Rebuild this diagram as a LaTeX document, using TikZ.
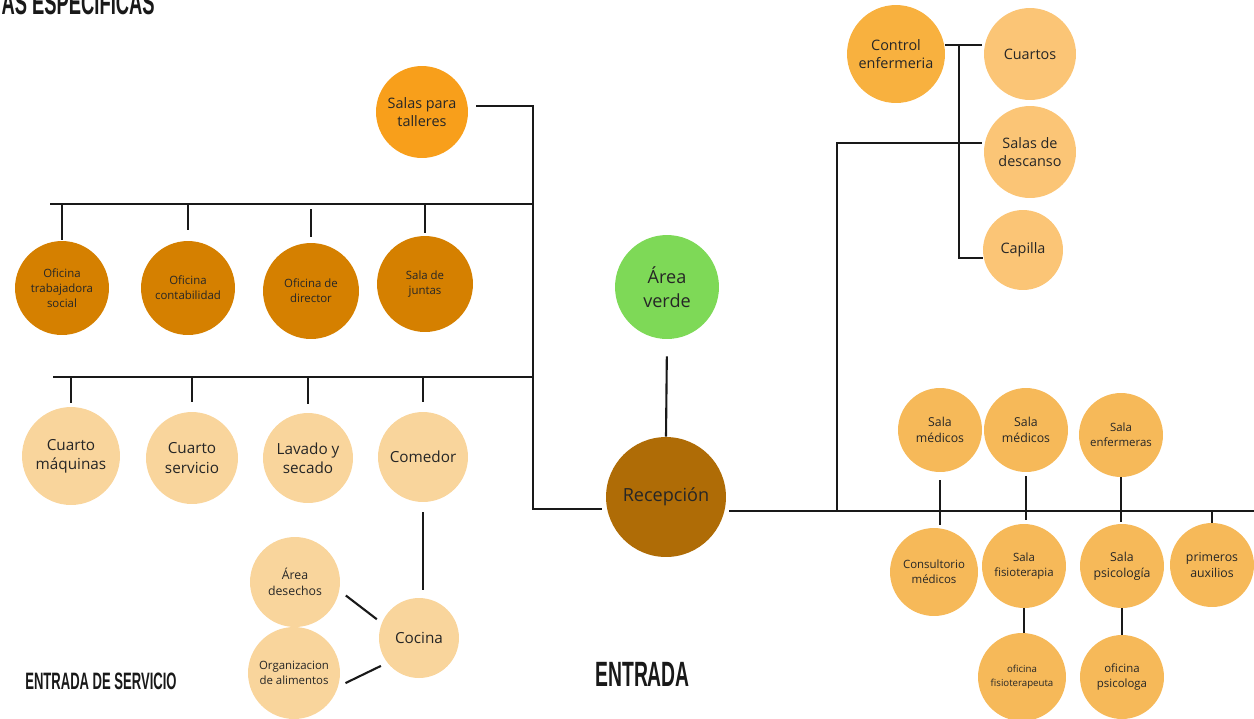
\documentclass[tikz,border=0pt]{standalone}
\usepackage{fontspec}
\setmainfont{Open Sans}
\newfontfamily\capsfont[FakeStretch=0.55]{Liberation Sans}
\usepackage{tikz}
\usetikzlibrary{calc}
\usepackage{xcolor}

\definecolor{tallerc}{HTML}{F89F1B}
\definecolor{oficinac}{HTML}{D58000}
\definecolor{servc}{HTML}{F9D59C}
\definecolor{verdec}{HTML}{7ED957}
\definecolor{recepc}{HTML}{AF6C06}
\definecolor{controlc}{HTML}{F8B13F}
\definecolor{cuartosc}{HTML}{FBC576}
\definecolor{clinicc}{HTML}{F6B959}

\begin{document}
\begin{tikzpicture}[
    x=0.02cm, y=-0.02cm,
    area/.style={circle, inner sep=0pt, align=center, text=black!85, minimum size=#1*0.04cm},
    txtxs/.style={font=\fontsize{5.5}{7.6}\selectfont},
    txts/.style={font=\fontsize{6.5}{8.6}\selectfont},
    txtm/.style={font=\fontsize{7}{9.2}\selectfont},
    txtl/.style={font=\fontsize{8.2}{10.6}\selectfont},
    txtxl/.style={font=\fontsize{8.7}{11}\selectfont},
    txthuge/.style={font=\fontsize{10.3}{14}\selectfont},
    caps/.style={inner sep=0pt, text=black!90},
    link/.style={line width=1.2pt, black!90}
  ]
    \useasboundingbox (0,0) rectangle (1254,718);

    % left wing
    \node[area=46, fill=tallerc, txtl] (talleres) at (422,112) {Salas para\\talleres};
    \node[area=47, fill=oficinac, txts] (ofitrab) at (62,288) {Oficina\\trabajadora\\social};
    \node[area=47, fill=oficinac, txts] (oficont) at (188,288) {Oficina\\contabilidad};
    \node[area=48, fill=oficinac, txts] (ofidir) at (311,291) {Oficina de\\director};
    \node[area=48, fill=oficinac, txts] (juntas) at (425,284) {Sala de\\juntas};
    \node[area=49, fill=servc, txtxl] (maquinas) at (71,456) {Cuarto\\máquinas};
    \node[area=46, fill=servc, txtxl] (servicio) at (192,458) {Cuarto\\servicio};
    \node[area=45, fill=servc, txtxl] (lavado) at (308,458) {Lavado y\\secado};
    \node[area=45, fill=servc, txtxl] (comedor) at (423,457) {Comedor};
    \node[area=40, fill=servc, txtxl] (cocina) at (419,638) {Cocina};
    \node[area=45, fill=servc, txtm] (desechos) at (295,582) {Área\\desechos};
    \node[area=46, fill=servc, txts] (alimentos) at (294,673) {Organizacion\\de alimentos};

    % centre
    \node[area=52, fill=verdec, txthuge] (verde) at (667,287) {Área\\verde};
    \node[area=60, fill=recepc, txthuge] (recepcion) at (666,497) {Recepción};

    % right wing
    \node[area=49, fill=controlc, txtl] (control) at (896,54) {Control\\enfermeria};
    \node[area=46, fill=cuartosc, txtl] (cuartos) at (1030,54) {Cuartos};
    \node[area=46, fill=cuartosc, txtl] (descanso) at (1030,152) {Salas de\\descanso};
    \node[area=40, fill=cuartosc, txtl] (capilla) at (1023,250) {Capilla};
    \node[area=42, fill=clinicc, txtm] (medicosA) at (940,430) {Sala\\médicos};
    \node[area=42, fill=clinicc, txtm] (medicosB) at (1026,430) {Sala\\médicos};
    \node[area=42, fill=clinicc, txts] (enfermeras) at (1121,435) {Sala\\enfermeras};
    \node[area=44, fill=clinicc, txts] (consultorio) at (934,572) {Consultorio\\médicos};
    \node[area=42, fill=clinicc, txts] (fisio) at (1024,566) {Sala\\fisioterapia};
    \node[area=42, fill=clinicc, txtm] (psico) at (1122,566) {Sala\\psicología};
    \node[area=42, fill=clinicc, txtm] (auxilios) at (1212,565) {primeros\\auxilios};
    \node[area=44, fill=clinicc, txtxs] (ofifisio) at (1022,677) {oficina\\fisioterapeuta};
    \node[area=42, fill=clinicc, txts] (ofipsico) at (1122,677) {oficina\\psicologa};

    % labels
    \node[caps, anchor=base east, font=\capsfont\bfseries\fontsize{19}{22}\selectfont] (titulo) at (155,14) {AS ESPECIFICAS};
    \node[caps, anchor=base west, font=\capsfont\bfseries\fontsize{13.5}{16}\selectfont] (entservicio) at (25,689) {ENTRADA DE SERVICIO};
    \node[caps, anchor=base west, font=\capsfont\bfseries\fontsize{20}{24}\selectfont] (entrada) at (595,686) {ENTRADA};

    % joints
    \coordinate (tallerjoin) at (533,106);
    \coordinate (spinebot) at (533,509);
    \coordinate (barA) at (533,204);
    \coordinate (barAend) at (50,204);
    \coordinate (barB) at (533,377);
    \coordinate (barBend) at (53,377);
    \coordinate (mainR) at (1254,511);
    \coordinate (clinicjoin) at (837,511);
    \coordinate (restjoin) at (837,143);
    \coordinate (ctrljoin) at (959,45);
    \coordinate (capjoin) at (959,258);

    % left connectors
    \draw[link, shorten <=0.16cm, shorten >=0.08cm] (talleres.east |- tallerjoin) -- (tallerjoin) -- (spinebot) -- (recepcion.west |- spinebot);
    \draw[link] (barAend) -- (barA);
    \draw[link, shorten >=0.02cm] (ofitrab.north |- barA) -- (ofitrab.north);
    \draw[link, shorten >=0.22cm] (oficont.north |- barA) -- (oficont.north);
    \draw[link, shorten <=0.1cm, shorten >=0.12cm] (ofidir.north |- barA) -- (ofidir.north);
    \draw[link, shorten >=0.06cm] (juntas.north |- barA) -- (juntas.north);
    \draw[link] (barBend) -- (barB);
    \draw[link, shorten >=0.08cm] (maquinas.north |- barB) -- (maquinas.north);
    \draw[link, shorten >=0.2cm] (servicio.north |- barB) -- (servicio.north);
    \draw[link, shorten >=0.18cm] (lavado.north |- barB) -- (lavado.north);
    \draw[link, shorten >=0.2cm] (comedor.north |- barB) -- (comedor.north);
    \draw[link, shorten <=0.2cm, shorten >=0.16cm] (comedor.south) -- (comedor.south |- cocina.north);
    \draw[link, shorten <=0.16cm, shorten >=0.12cm] (desechos.-11) -- (cocina.158);
    \draw[link, shorten <=0.16cm, shorten >=0.14cm] (alimentos.-17) -- (cocina.-142);
    \draw[link, shorten <=0.34cm] (verde.south) -- (recepcion.north);

    % right connectors
    \draw[link, shorten <=0.06cm] (recepcion.east |- mainR) -- (mainR);
    \draw[link, shorten >=0.04cm] (clinicjoin) -- (restjoin) -- (descanso.west |- restjoin);
    \draw[link, shorten >=0.04cm] (control.east |- ctrljoin) -- (cuartos.west |- ctrljoin);
    \draw[link] (ctrljoin) -- (capjoin) -- (capilla.west |- capjoin);
    \draw[link, shorten <=0.16cm, shorten >=0.06cm] (medicosA.south) -- (medicosA.south |- consultorio.north);
    \draw[link, shorten <=0.08cm, shorten >=0.08cm] (medicosB.south) -- (medicosB.south |- fisio.north);
    \draw[link, shorten >=0.04cm] (enfermeras.south) -- (enfermeras.south |- psico.north);
    \draw[link] (auxilios.north |- mainR) -- (auxilios.north);
    \draw[link] (fisio.south) -- (fisio.south |- ofifisio.north);
    \draw[link] (psico.south) -- (psico.south |- ofipsico.north);
  \end{tikzpicture}
\end{document}
